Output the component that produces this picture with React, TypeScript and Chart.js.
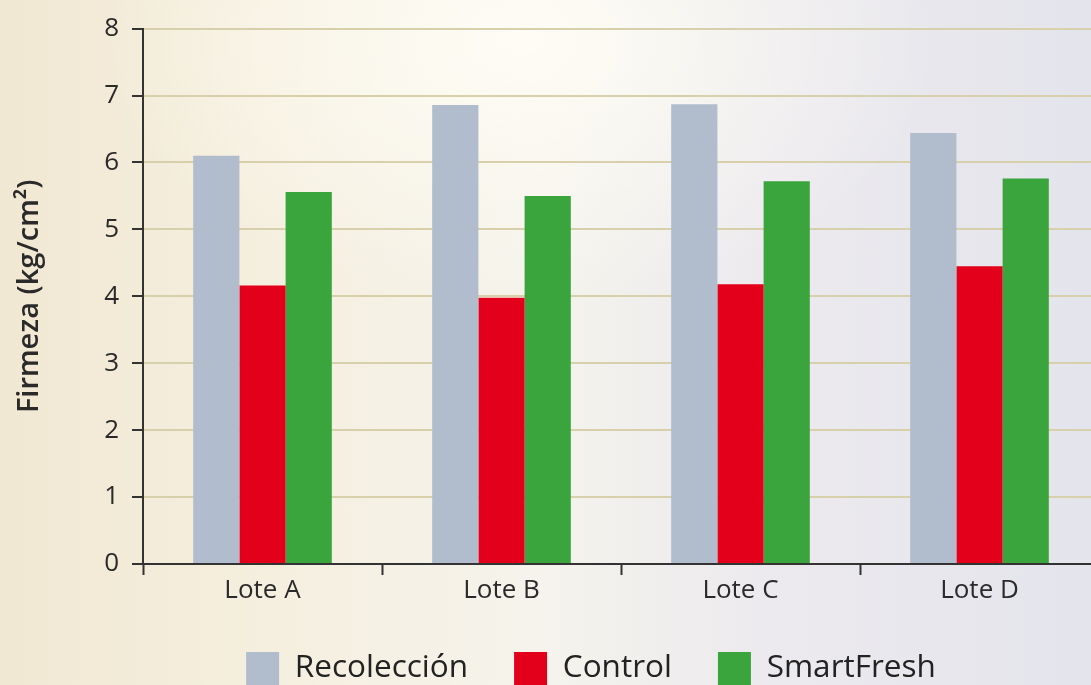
import React, { useEffect, useRef } from "react";
import { Chart, registerables } from "chart.js";

Chart.register(...registerables);

const categories = ["Lote A", "Lote B", "Lote C", "Lote D"];
const recoleccion = [6.1, 6.86, 6.87, 6.44];
const control = [4.16, 3.98, 4.18, 4.45];
const smartFresh = [5.56, 5.5, 5.72, 5.76];
const yTicks = [0, 1, 2, 3, 4, 5, 6, 7, 8];
const seriesNames = ["Recolección", "Control", "SmartFresh"];

const FONT = "'Open Sans', 'DejaVu Sans', sans-serif";

export default function App() {
  const ref = useRef<HTMLCanvasElement | null>(null);

  useEffect(() => {
    document.body.style.margin = "0";
    document.body.style.overflow = "hidden";
    const canvas = ref.current!;
    const chart = new Chart(canvas, {
      type: "bar",
      data: {
        labels: categories,
        datasets: [
          { label: seriesNames[0], data: recoleccion, backgroundColor: "#b1bccc", yAxisID: "y" },
          { label: seriesNames[1], data: control, backgroundColor: "#e2001a", yAxisID: "y" },
          { label: seriesNames[2], data: smartFresh, backgroundColor: "#3aa53c", yAxisID: "y" },
        ],
      },
      options: {
        responsive: false,
        animation: false,
        devicePixelRatio: 1,
        layout: { padding: { top: 28, left: 0, right: 0, bottom: 0 } },
        datasets: { bar: { barPercentage: 1, categoryPercentage: 0.58 } },
        plugins: {
          tooltip: { enabled: false },
          legend: {
            position: "bottom",
            labels: {
              boxWidth: 33,
              boxHeight: 33,
              padding: 46,
              color: "#222",
              font: { family: FONT, size: 31.5 },
            },
          },
        },
        scales: {
          x: {
            offset: true,
            afterFit: (s: any) => {
              s.height = 42;
            },
            grid: {
              offset: true,
              drawOnChartArea: false,
              drawTicks: true,
              tickLength: 11,
              tickColor: "#333",
              tickWidth: 2,
            },
            border: { display: true, color: "#333", width: 2 },
            ticks: { color: "#2a2a2a", font: { family: FONT, size: 26 }, padding: 0 },
          },
          y: {
            position: "left",
            min: 0,
            max: 8,
            afterFit: (s: any) => {
              s.width = 143;
            },
            afterBuildTicks: (s: any) => {
              s.ticks = yTicks.map((v) => ({ value: v }));
            },
            grid: {
              color: "#d8d0aa",
              lineWidth: 2,
              tickColor: "#333",
              tickLength: 11,
              tickWidth: 2,
            },
            border: { display: true, color: "#333", width: 2 },
            ticks: { color: "#2a2a2a", font: { family: FONT, size: 26 }, padding: 13 },
            title: {
              display: true,
              text: "Firmeza (kg/cm²)",
              color: "#2a2a2a",
              font: { family: FONT, size: 29, weight: 600 },
              padding: { top: 12, bottom: 0 },
            },
          },
          yR: {
            position: "right",
            min: 0,
            max: 8,
            display: true,
            afterFit: (s: any) => {
              s.width = 83;
            },
            grid: { display: false, drawTicks: false },
            border: { display: false },
            ticks: { display: false },
          },
        },
      },
    });
    return () => chart.destroy();
  }, []);

  return (
    <div
      style={{
        position: "fixed",
        left: 0,
        top: 0,
        width: 1091,
        height: 685,
        overflow: "hidden",
        background:
          "radial-gradient(ellipse 420px 260px at 520px 40px, rgba(255,253,245,0.9), rgba(255,253,245,0) 100%), linear-gradient(90deg, #f1e8d3 0%, #f5efdf 25%, #f5f3ec 50%, #eceaee 70%, #e4e4ec 100%)",
      }}
    >
      <canvas ref={ref} width={1182} height={695} style={{ width: 1182, height: 695, display: "block" }} />
    </div>
  );
}
